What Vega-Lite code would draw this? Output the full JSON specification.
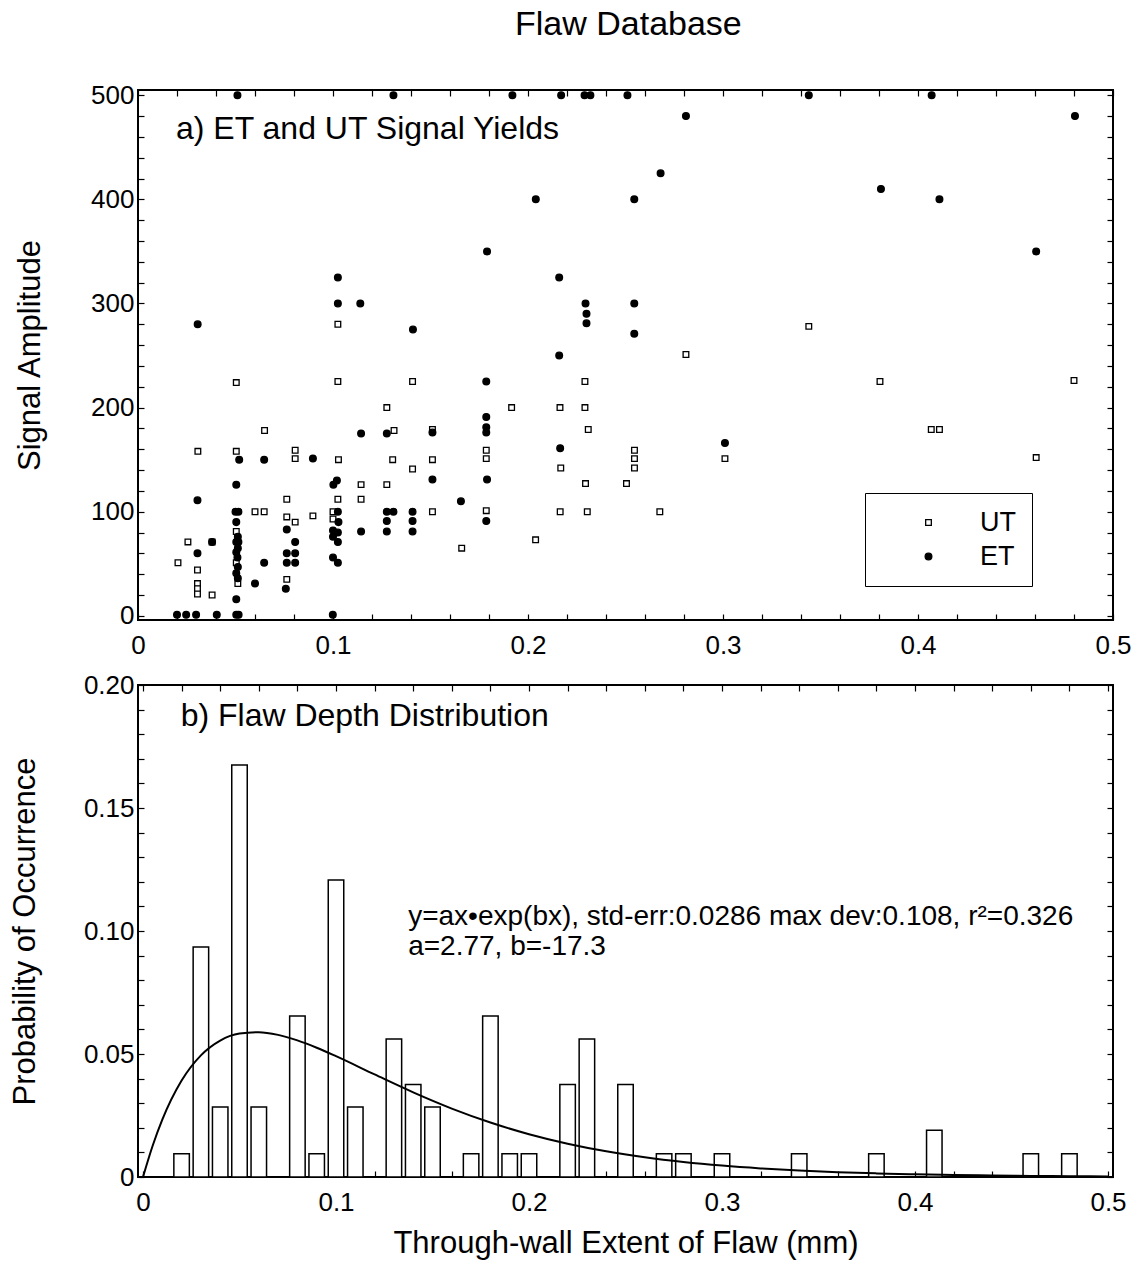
{
  "$schema": "https://vega.github.io/schema/vega-lite/v6.json",
  "padding": {"left": 8, "top": 8, "right": 5, "bottom": 5},
  "background": "white",
  "title": {"text": "Flaw Database", "fontSize": 34, "font": "Liberation Sans", "fontWeight": "normal", "color": "black", "anchor": "start", "frame": "group", "offset": 39, "dx": 377},
  "config": {
    "font": "Liberation Sans",
    "view": {"stroke": "black", "strokeWidth": 2},
    "axis": {
      "domain": false, "grid": false, "tickColor": "black", "tickSize": -6, "tickWidth": 1.2,
      "labelFont": "Liberation Sans", "labelFontSize": 26, "labelColor": "black", "labelOverlap": false, "labelFlush": false,
      "titleFont": "Liberation Sans", "titleFontSize": 31, "titleFontWeight": "normal", "titleColor": "black"
    }
  },
  "spacing": 12,
  "datasets": {
    "scatter": [
      {"x": 0.1025, "y": 280, "s": "UT"}, {"x": 0.344, "y": 278, "s": "UT"}, {"x": 0.281, "y": 251, "s": "UT"},
      {"x": 0.0504, "y": 224, "s": "UT"}, {"x": 0.1025, "y": 225, "s": "UT"}, {"x": 0.1408, "y": 225, "s": "UT"},
      {"x": 0.2292, "y": 225, "s": "UT"}, {"x": 0.3805, "y": 225, "s": "UT"}, {"x": 0.48, "y": 226, "s": "UT"},
      {"x": 0.1276, "y": 200, "s": "UT"}, {"x": 0.1916, "y": 200, "s": "UT"}, {"x": 0.2164, "y": 200, "s": "UT"},
      {"x": 0.2292, "y": 200, "s": "UT"}, {"x": 0.0649, "y": 178, "s": "UT"}, {"x": 0.1313, "y": 178, "s": "UT"},
      {"x": 0.151, "y": 179, "s": "UT"}, {"x": 0.2309, "y": 179, "s": "UT"}, {"x": 0.4068, "y": 179, "s": "UT"},
      {"x": 0.411, "y": 179, "s": "UT"}, {"x": 0.0307, "y": 158, "s": "UT"}, {"x": 0.0504, "y": 158, "s": "UT"},
      {"x": 0.0806, "y": 159, "s": "UT"}, {"x": 0.1786, "y": 159, "s": "UT"}, {"x": 0.2546, "y": 159, "s": "UT"},
      {"x": 0.0806, "y": 151, "s": "UT"}, {"x": 0.1028, "y": 150, "s": "UT"}, {"x": 0.1306, "y": 150, "s": "UT"},
      {"x": 0.151, "y": 150, "s": "UT"}, {"x": 0.1786, "y": 151, "s": "UT"}, {"x": 0.2546, "y": 151, "s": "UT"},
      {"x": 0.301, "y": 151, "s": "UT"}, {"x": 0.4606, "y": 152, "s": "UT"}, {"x": 0.1408, "y": 141, "s": "UT"},
      {"x": 0.2168, "y": 142, "s": "UT"}, {"x": 0.2546, "y": 142, "s": "UT"}, {"x": 0.1144, "y": 126, "s": "UT"},
      {"x": 0.1276, "y": 126, "s": "UT"}, {"x": 0.2295, "y": 127, "s": "UT"}, {"x": 0.2505, "y": 127, "s": "UT"},
      {"x": 0.0763, "y": 112, "s": "UT"}, {"x": 0.1025, "y": 112, "s": "UT"}, {"x": 0.1144, "y": 112, "s": "UT"},
      {"x": 0.06, "y": 100, "s": "UT"}, {"x": 0.0647, "y": 100, "s": "UT"}, {"x": 0.1, "y": 100, "s": "UT"},
      {"x": 0.151, "y": 100, "s": "UT"}, {"x": 0.1786, "y": 101, "s": "UT"}, {"x": 0.2165, "y": 100, "s": "UT"},
      {"x": 0.2304, "y": 100, "s": "UT"}, {"x": 0.2676, "y": 100, "s": "UT"}, {"x": 0.0763, "y": 95, "s": "UT"},
      {"x": 0.0897, "y": 96, "s": "UT"}, {"x": 0.0806, "y": 90, "s": "UT"}, {"x": 0.1, "y": 93, "s": "UT"},
      {"x": 0.0504, "y": 81, "s": "UT"}, {"x": 0.166, "y": 65, "s": "UT"}, {"x": 0.2039, "y": 73, "s": "UT"},
      {"x": 0.0256, "y": 71, "s": "UT"}, {"x": 0.038, "y": 71, "s": "UT"}, {"x": 0.0205, "y": 51, "s": "UT"},
      {"x": 0.0504, "y": 51, "s": "UT"}, {"x": 0.0305, "y": 44, "s": "UT"}, {"x": 0.0512, "y": 31, "s": "UT"},
      {"x": 0.0763, "y": 35, "s": "UT"}, {"x": 0.0305, "y": 31, "s": "UT"}, {"x": 0.0305, "y": 26, "s": "UT"},
      {"x": 0.0305, "y": 21, "s": "UT"}, {"x": 0.038, "y": 20, "s": "UT"},
      {"x": 0.051, "y": 500, "s": "ET"}, {"x": 0.131, "y": 500, "s": "ET"}, {"x": 0.192, "y": 500, "s": "ET"},
      {"x": 0.217, "y": 500, "s": "ET"}, {"x": 0.229, "y": 500, "s": "ET"}, {"x": 0.232, "y": 500, "s": "ET"},
      {"x": 0.251, "y": 500, "s": "ET"}, {"x": 0.344, "y": 500, "s": "ET"}, {"x": 0.407, "y": 500, "s": "ET"},
      {"x": 0.281, "y": 480, "s": "ET"}, {"x": 0.268, "y": 425, "s": "ET"}, {"x": 0.204, "y": 400, "s": "ET"},
      {"x": 0.2545, "y": 400, "s": "ET"}, {"x": 0.179, "y": 350, "s": "ET"}, {"x": 0.216, "y": 325, "s": "ET"},
      {"x": 0.2295, "y": 300, "s": "ET"}, {"x": 0.23, "y": 290, "s": "ET"}, {"x": 0.23, "y": 281, "s": "ET"},
      {"x": 0.2545, "y": 300, "s": "ET"}, {"x": 0.2545, "y": 271, "s": "ET"}, {"x": 0.216, "y": 250, "s": "ET"},
      {"x": 0.1786, "y": 225, "s": "ET"}, {"x": 0.1786, "y": 191, "s": "ET"}, {"x": 0.1786, "y": 181, "s": "ET"},
      {"x": 0.1786, "y": 176, "s": "ET"}, {"x": 0.2165, "y": 161, "s": "ET"}, {"x": 0.301, "y": 166, "s": "ET"},
      {"x": 0.179, "y": 131, "s": "ET"}, {"x": 0.1656, "y": 110, "s": "ET"}, {"x": 0.1786, "y": 91, "s": "ET"},
      {"x": 0.4805, "y": 480, "s": "ET"}, {"x": 0.381, "y": 410, "s": "ET"}, {"x": 0.411, "y": 400, "s": "ET"},
      {"x": 0.4606, "y": 350, "s": "ET"}, {"x": 0.1025, "y": 325, "s": "ET"}, {"x": 0.1025, "y": 300, "s": "ET"},
      {"x": 0.114, "y": 300, "s": "ET"}, {"x": 0.0306, "y": 280, "s": "ET"}, {"x": 0.141, "y": 275, "s": "ET"},
      {"x": 0.1144, "y": 175, "s": "ET"}, {"x": 0.1276, "y": 175, "s": "ET"}, {"x": 0.151, "y": 176, "s": "ET"},
      {"x": 0.0519, "y": 150, "s": "ET"}, {"x": 0.0647, "y": 150, "s": "ET"}, {"x": 0.0897, "y": 151, "s": "ET"},
      {"x": 0.151, "y": 131, "s": "ET"}, {"x": 0.0504, "y": 126, "s": "ET"}, {"x": 0.1002, "y": 126, "s": "ET"},
      {"x": 0.102, "y": 130, "s": "ET"}, {"x": 0.0305, "y": 111, "s": "ET"}, {"x": 0.05, "y": 100, "s": "ET"},
      {"x": 0.0515, "y": 100, "s": "ET"}, {"x": 0.1025, "y": 100, "s": "ET"}, {"x": 0.1276, "y": 100, "s": "ET"},
      {"x": 0.131, "y": 100, "s": "ET"}, {"x": 0.1408, "y": 100, "s": "ET"}, {"x": 0.0504, "y": 90, "s": "ET"},
      {"x": 0.1028, "y": 90, "s": "ET"}, {"x": 0.1276, "y": 91, "s": "ET"}, {"x": 0.1408, "y": 91, "s": "ET"},
      {"x": 0.0763, "y": 83, "s": "ET"}, {"x": 0.1, "y": 82, "s": "ET"}, {"x": 0.1025, "y": 80, "s": "ET"},
      {"x": 0.1144, "y": 81, "s": "ET"}, {"x": 0.1276, "y": 81, "s": "ET"}, {"x": 0.1408, "y": 81, "s": "ET"},
      {"x": 0.1, "y": 76, "s": "ET"}, {"x": 0.1025, "y": 71, "s": "ET"}, {"x": 0.0512, "y": 76, "s": "ET"},
      {"x": 0.038, "y": 71, "s": "ET"}, {"x": 0.0504, "y": 71, "s": "ET"}, {"x": 0.0515, "y": 71, "s": "ET"},
      {"x": 0.0806, "y": 71, "s": "ET"}, {"x": 0.0305, "y": 60, "s": "ET"}, {"x": 0.0504, "y": 61, "s": "ET"},
      {"x": 0.0512, "y": 65, "s": "ET"}, {"x": 0.0763, "y": 60, "s": "ET"}, {"x": 0.0806, "y": 60, "s": "ET"},
      {"x": 0.1, "y": 56, "s": "ET"}, {"x": 0.1025, "y": 51, "s": "ET"}, {"x": 0.0647, "y": 51, "s": "ET"},
      {"x": 0.0763, "y": 51, "s": "ET"}, {"x": 0.0806, "y": 51, "s": "ET"}, {"x": 0.051, "y": 56, "s": "ET"},
      {"x": 0.0512, "y": 47, "s": "ET"}, {"x": 0.0504, "y": 41, "s": "ET"}, {"x": 0.0512, "y": 36, "s": "ET"},
      {"x": 0.06, "y": 31, "s": "ET"}, {"x": 0.0758, "y": 26, "s": "ET"}, {"x": 0.0504, "y": 16, "s": "ET"},
      {"x": 0.02, "y": 1, "s": "ET"}, {"x": 0.0247, "y": 1, "s": "ET"}, {"x": 0.0298, "y": 1, "s": "ET"},
      {"x": 0.0404, "y": 1, "s": "ET"}, {"x": 0.0504, "y": 1, "s": "ET"}, {"x": 0.0516, "y": 1, "s": "ET"},
      {"x": 0.0999, "y": 1, "s": "ET"}
    ],
    "hist": [
      {"x": 0.02, "p": 0.0095}, {"x": 0.03, "p": 0.0935}, {"x": 0.04, "p": 0.0285}, {"x": 0.05, "p": 0.1675},
      {"x": 0.06, "p": 0.0285}, {"x": 0.08, "p": 0.0654}, {"x": 0.09, "p": 0.0095}, {"x": 0.10, "p": 0.1207},
      {"x": 0.11, "p": 0.0285}, {"x": 0.13, "p": 0.0561}, {"x": 0.14, "p": 0.0376}, {"x": 0.15, "p": 0.0285},
      {"x": 0.17, "p": 0.0095}, {"x": 0.18, "p": 0.0654}, {"x": 0.19, "p": 0.0095}, {"x": 0.20, "p": 0.0095},
      {"x": 0.22, "p": 0.0376}, {"x": 0.23, "p": 0.0561}, {"x": 0.25, "p": 0.0376}, {"x": 0.27, "p": 0.0095},
      {"x": 0.28, "p": 0.0095}, {"x": 0.30, "p": 0.0095}, {"x": 0.34, "p": 0.0095}, {"x": 0.38, "p": 0.0095},
      {"x": 0.41, "p": 0.019}, {"x": 0.46, "p": 0.0095}, {"x": 0.48, "p": 0.0095}
    ],
    "curve": [
      {"x": 0, "p": 0}, {"x": 0.005, "p": 0.0127}, {"x": 0.01, "p": 0.0233}, {"x": 0.02, "p": 0.0392},
      {"x": 0.03, "p": 0.04945}, {"x": 0.04, "p": 0.05547}, {"x": 0.05, "p": 0.05832}, {"x": 0.06, "p": 0.05887},
      {"x": 0.07, "p": 0.05777}, {"x": 0.08, "p": 0.05553}, {"x": 0.09, "p": 0.05255}, {"x": 0.10, "p": 0.04911},
      {"x": 0.12, "p": 0.04169}, {"x": 0.14, "p": 0.03441}, {"x": 0.16, "p": 0.02782}, {"x": 0.18, "p": 0.02215},
      {"x": 0.20, "p": 0.01741}, {"x": 0.22, "p": 0.01355}, {"x": 0.24, "p": 0.01046}, {"x": 0.26, "p": 0.00802},
      {"x": 0.28, "p": 0.00611}, {"x": 0.30, "p": 0.00463}, {"x": 0.32, "p": 0.0035}, {"x": 0.34, "p": 0.00263},
      {"x": 0.36, "p": 0.00197}, {"x": 0.38, "p": 0.00147}, {"x": 0.40, "p": 0.00109}, {"x": 0.42, "p": 0.00081},
      {"x": 0.44, "p": 0.0006}, {"x": 0.46, "p": 0.00045}, {"x": 0.48, "p": 0.00033}, {"x": 0.50, "p": 0.00024}
    ]
  },
  "vconcat": [
    {
      "width": 975, "height": 530,
      "layer": [
        {
          "data": {"name": "scatter"},
          "mark": {"type": "point", "filled": true, "opacity": 1, "strokeWidth": 1.3},
          "encoding": {
            "x": {"field": "x", "type": "quantitative", "scale": {"domain": [0, 0.5], "nice": false, "zero": false},
                  "axis": {"title": null, "values": [0,0.02,0.04,0.06,0.08,0.1,0.12,0.14,0.16,0.18,0.2,0.22,0.24,0.26,0.28,0.3,0.32,0.34,0.36,0.38,0.4,0.42,0.44,0.46,0.48,0.5],
                           "labelExpr": "abs(datum.value*10 - round(datum.value*10)) < 0.001 ? format(datum.value, '.1~f') : ''", "labelPadding": 18}},
            "y": {"field": "y", "type": "quantitative", "scale": {"domain": [-4, 505], "nice": false, "zero": false},
                  "axis": {"title": "Signal Amplitude", "values": [0,20,40,60,80,100,120,140,160,180,200,220,240,260,280,300,320,340,360,380,400,420,440,460,480,500],
                           "labelExpr": "datum.value % 100 == 0 ? '' + datum.value : ''", "labelPadding": 10, "titlePadding": 44}},
            "shape": {"field": "s", "type": "nominal", "scale": {"domain": ["UT", "ET"], "range": ["square", "circle"]},
                      "legend": {"orient": "none", "legendX": 727, "legendY": 403, "title": null, "strokeColor": "black",
                                 "padding": 16, "labelFontSize": 27, "labelFont": "Liberation Sans", "labelColor": "black",
                                 "symbolOffset": 34, "labelOffset": 38, "rowPadding": 6, "symbolStrokeColor": "black", "symbolStrokeWidth": 1.3}},
            "fill": {"field": "s", "type": "nominal", "scale": {"domain": ["UT", "ET"], "range": ["white", "black"]}},
            "size": {"field": "s", "type": "nominal", "scale": {"domain": ["UT", "ET"], "range": [32, 45]}},
            "stroke": {"value": "black"}
          }
        },
        {
          "data": {"values": [{"t": "a) ET and UT Signal Yields"}]},
          "mark": {"type": "text", "align": "left", "baseline": "middle", "fontSize": 32, "font": "Liberation Sans", "color": "black"},
          "encoding": {"text": {"field": "t"}, "x": {"datum": 0.0195, "axis": null}, "y": {"datum": 468, "axis": null}}
        },
        {
          "data": {"name": "curve"},
          "mark": {"type": "point", "opacity": 0},
          "encoding": {
            "x": {"field": "x", "type": "quantitative", "axis": {"orient": "top", "title": null, "labels": false, "values": [0,0.02,0.04,0.06,0.08,0.1,0.12,0.14,0.16,0.18,0.2,0.22,0.24,0.26,0.28,0.3,0.32,0.34,0.36,0.38,0.4,0.42,0.44,0.46,0.48,0.5]}},
            "y": {"field": "p", "type": "quantitative", "axis": {"orient": "right", "title": null, "labels": false, "values": [0,20,40,60,80,100,120,140,160,180,200,220,240,260,280,300,320,340,360,380,400,420,440,460,480,500]}}
          }
        }
      ],
      "resolve": {"axis": {"x": "independent", "y": "independent"}}
    },
    {
      "width": 975, "height": 492,
      "layer": [
        {
          "data": {"name": "hist"},
          "mark": {"type": "bar", "width": 15.5, "fill": "white", "stroke": "black", "strokeWidth": 1.5},
          "encoding": {
            "x": {"field": "x", "type": "quantitative", "scale": {"domain": [0, 0.5], "nice": false, "zero": false},
                  "axis": {"title": "Through-wall Extent of Flaw (mm)", "values": [0,0.02,0.04,0.06,0.08,0.1,0.12,0.14,0.16,0.18,0.2,0.22,0.24,0.26,0.28,0.3,0.32,0.34,0.36,0.38,0.4,0.42,0.44,0.46,0.48,0.5],
                           "labelExpr": "abs(datum.value*10 - round(datum.value*10)) < 0.001 ? format(datum.value, '.1~f') : ''", "labelPadding": 18, "titlePadding": 13}},
            "y": {"field": "p", "type": "quantitative", "scale": {"domain": [0, 0.2], "nice": false},
                  "axis": {"title": "Probability of Occurrence", "values": [0,0.01,0.02,0.03,0.04,0.05,0.06,0.07,0.08,0.09,0.1,0.11,0.12,0.13,0.14,0.15,0.16,0.17,0.18,0.19,0.2],
                           "labelExpr": "abs(datum.value*20 - round(datum.value*20)) < 0.001 ? (datum.value == 0 ? '0' : format(datum.value, '.2f')) : ''", "labelPadding": 10, "titlePadding": 42}}
          }
        },
        {
          "data": {"name": "curve"},
          "mark": {"type": "line", "color": "black", "strokeWidth": 2, "interpolate": "monotone"},
          "encoding": {"x": {"field": "x", "type": "quantitative", "axis": null}, "y": {"field": "p", "type": "quantitative", "axis": null}}
        },
        {
          "data": {"values": [{"t": "b) Flaw Depth Distribution"}]},
          "mark": {"type": "text", "align": "left", "baseline": "middle", "fontSize": 32, "font": "Liberation Sans", "color": "black"},
          "encoding": {"text": {"field": "t"}, "x": {"datum": 0.0195, "axis": null}, "y": {"datum": 0.1875, "axis": null}}
        },
        {
          "data": {"values": [{"t": "y=ax•exp(bx), std-err:0.0286 max dev:0.108, r²=0.326"}]},
          "mark": {"type": "text", "align": "left", "baseline": "middle", "fontSize": 28, "font": "Liberation Sans", "color": "black"},
          "encoding": {"text": {"field": "t"}, "x": {"datum": 0.1374, "axis": null}, "y": {"datum": 0.1057, "axis": null}}
        },
        {
          "data": {"values": [{"t": "a=2.77, b=-17.3"}]},
          "mark": {"type": "text", "align": "left", "baseline": "middle", "fontSize": 28, "font": "Liberation Sans", "color": "black"},
          "encoding": {"text": {"field": "t"}, "x": {"datum": 0.1374, "axis": null}, "y": {"datum": 0.0935, "axis": null}}
        },
        {
          "data": {"name": "curve"},
          "mark": {"type": "point", "opacity": 0},
          "encoding": {
            "x": {"field": "x", "type": "quantitative", "axis": {"orient": "top", "title": null, "labels": false, "values": [0,0.02,0.04,0.06,0.08,0.1,0.12,0.14,0.16,0.18,0.2,0.22,0.24,0.26,0.28,0.3,0.32,0.34,0.36,0.38,0.4,0.42,0.44,0.46,0.48,0.5]}},
            "y": {"field": "p", "type": "quantitative", "axis": {"orient": "right", "title": null, "labels": false, "values": [0,0.01,0.02,0.03,0.04,0.05,0.06,0.07,0.08,0.09,0.1,0.11,0.12,0.13,0.14,0.15,0.16,0.17,0.18,0.19,0.2]}}
          }
        }
      ],
      "resolve": {"axis": {"x": "independent", "y": "independent"}}
    }
  ]
}
